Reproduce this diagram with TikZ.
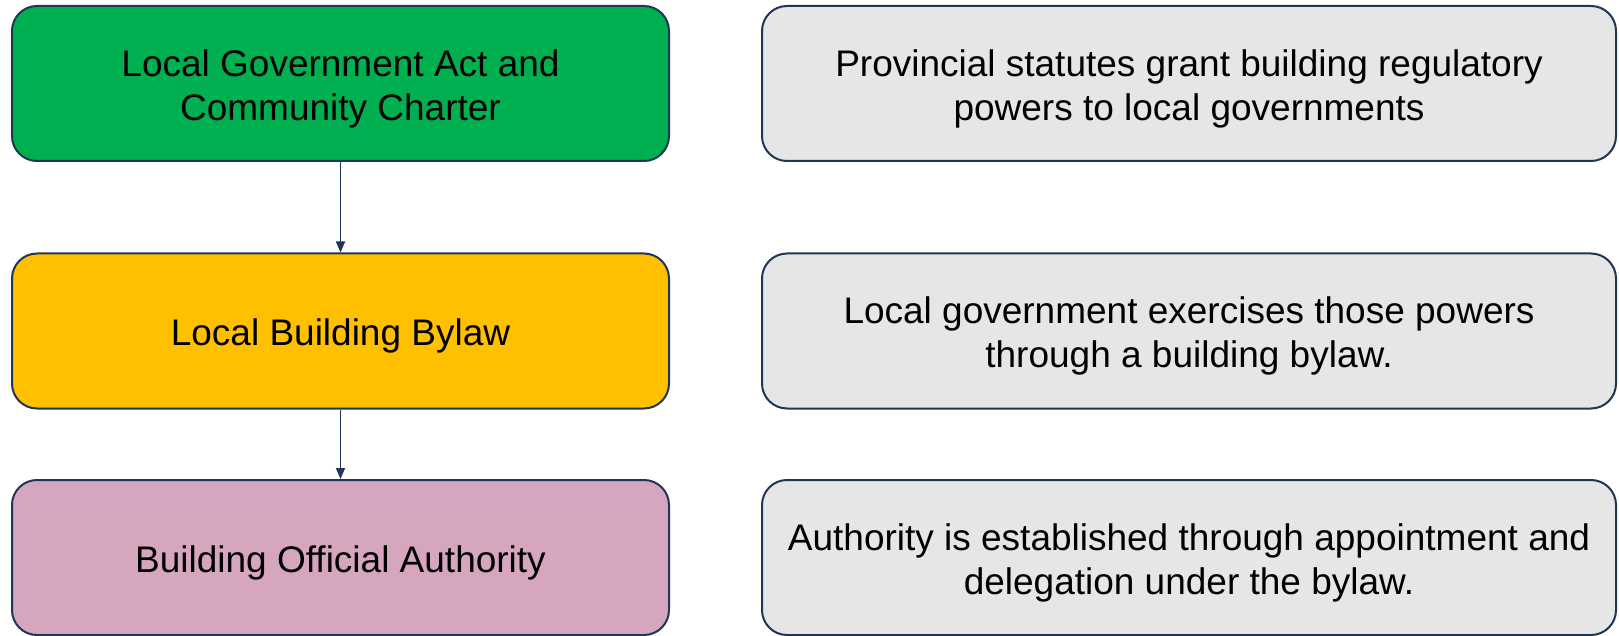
\documentclass[tikz,border=0pt]{standalone}
\usepackage{fontspec}
\setmainfont{Liberation Sans}
\usetikzlibrary{arrows.meta}
\definecolor{edgeblue}{HTML}{1F3654}
\definecolor{actgreen}{HTML}{00B050}
\definecolor{bylawyellow}{HTML}{FFC000}
\definecolor{officialpink}{HTML}{D5A6BD}
\definecolor{notegray}{HTML}{E7E6E6}
\tikzset{
	box/.style={draw=edgeblue, line width=2pt, rounded corners=25pt, minimum height=155pt, inner sep=0pt},
	boxtext/.style={align=center, inner sep=0pt, yshift=-5pt, font=\fontsize{37}{44}\selectfont},
	levelbox/.style={box, minimum width=657pt},
	notebox/.style={box, minimum width=854pt, fill=notegray},
	flow/.style={draw=edgeblue, line width=1.5pt, -{Triangle[width=9pt,length=11pt]}}
}
\begin{document}
\begin{tikzpicture}[x=1pt, y=-1pt]
	\useasboundingbox (0,0) rectangle (1619,636);
	% left column
	\node[levelbox, fill=actgreen, label={[boxtext]center:Local Government Act and\\Community Charter}] (act) at (340.5, 83.5) {};
	\node[levelbox, fill=bylawyellow, label={[boxtext]center:Local Building Bylaw}] (bylaw) at (340.5, 331) {};
	\node[levelbox, fill=officialpink, label={[boxtext]center:Building Official Authority}] (official) at (340.5, 557.5) {};
	% right column
	\node[notebox, label={[boxtext]center:Provincial statutes grant building regulatory\\powers to local governments}] (actnote) at (1189, 83.5) {};
	\node[notebox, label={[boxtext]center:Local government exercises those powers\\through a building bylaw.}] (bylawnote) at (1189, 331) {};
	\node[notebox, label={[boxtext]center:Authority is established through appointment and\\delegation under the bylaw.}] (officialnote) at (1189, 557.5) {};
	\draw[flow] (act) -- (bylaw);
	\draw[flow] (bylaw) -- (official);
\end{tikzpicture}
\end{document}
